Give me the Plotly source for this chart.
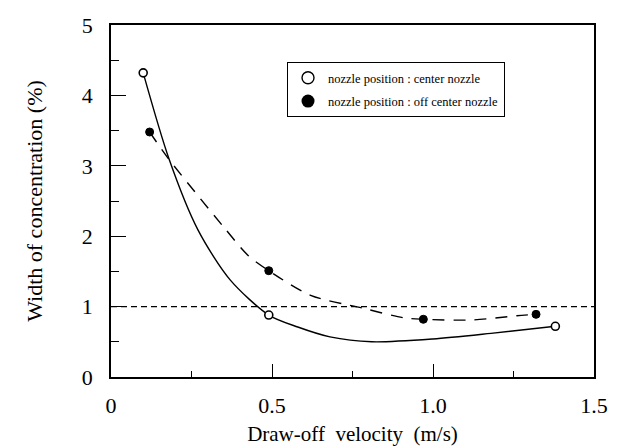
import plotly.graph_objects as go

# Measured points
center_v = [0.10, 0.49, 1.38]
center_w = [4.32, 0.88, 0.72]
offc_v = [0.12, 0.49, 0.97, 1.32]
offc_w = [3.48, 1.51, 0.82, 0.89]

# Hand-fitted trend curves
center_curve_v = [0.10, 0.18, 0.27, 0.37, 0.49, 0.58, 0.68, 0.81, 1.00, 1.18, 1.38]
center_curve_w = [4.32, 3.10, 2.09, 1.38, 0.88, 0.71, 0.57, 0.50, 0.54, 0.62, 0.72]
offc_curve_v = [0.12, 0.177, 0.35, 0.425, 0.49, 0.62, 0.78, 0.91, 0.97, 1.12, 1.26, 1.32]
offc_curve_w = [3.48, 3.11, 2.13, 1.73, 1.51, 1.16, 0.98, 0.84, 0.82, 0.81, 0.87, 0.89]

# Reference level
ref_v = [0.0, 1.5]
ref_w = [1.0, 1.0]

x_ticks = [0, 0.5, 1.0, 1.5]
x_labels = ["0", "0.5", "1.0", "1.5"]
y_ticks = [0, 1, 2, 3, 4, 5]
y_labels = ["0", "1", "2", "3", "4", "5"]

SERIF = "Liberation Serif, Times New Roman, serif"

fig = go.Figure()

fig.add_trace(go.Scatter(x=ref_v, y=ref_w, mode="lines",
                         line=dict(color="black", width=1.4, dash="6px,4px"),
                         showlegend=False, hoverinfo="skip"))
fig.add_trace(go.Scatter(x=center_curve_v, y=center_curve_w, mode="lines",
                         line=dict(color="black", width=1.4, shape="spline", smoothing=0.8),
                         showlegend=False, hoverinfo="skip"))
fig.add_trace(go.Scatter(x=offc_curve_v, y=offc_curve_w, mode="lines",
                         line=dict(color="black", width=1.4, shape="spline", smoothing=0.8,
                                   dash="12px,9px"),
                         showlegend=False, hoverinfo="skip"))

fig.add_trace(go.Scatter(x=center_v, y=center_w, mode="markers",
                         marker=dict(symbol="circle", size=8, color="white",
                                     line=dict(color="black", width=1.6)),
                         showlegend=False))
fig.add_trace(go.Scatter(x=offc_v, y=offc_w, mode="markers",
                         marker=dict(symbol="circle", size=8, color="black",
                                     line=dict(color="black", width=1)),
                         showlegend=False))

# Legend entries with larger symbols
fig.add_trace(go.Scatter(x=[None], y=[None], mode="markers",
                         name="nozzle position : center nozzle", legendgroup="a",
                         marker=dict(symbol="circle", size=12, color="white",
                                     line=dict(color="black", width=1.4))))
fig.add_trace(go.Scatter(x=[None], y=[None], mode="markers",
                         name="nozzle position : off center nozzle", legendgroup="b",
                         marker=dict(symbol="circle", size=13, color="black")))

fig.update_layout(
    width=620, height=448,
    margin=dict(l=111, r=26, t=25, b=71, autoexpand=False),
    paper_bgcolor="white", plot_bgcolor="white",
    font=dict(family=SERIF, color="black"),
    showlegend=True,
    legend=dict(x=0.364, y=0.895, xanchor="left", yanchor="top",
                bgcolor="white", bordercolor="black", borderwidth=1.2,
                font=dict(size=12.5, family=SERIF),
                itemsizing="trace", tracegroupgap=4),
)

fig.update_xaxes(
    range=[0, 1.5], tickvals=x_ticks, ticktext=x_labels, automargin=False,
    ticks="inside", ticklen=13, tickwidth=1.3, tickcolor="black",
    minor=dict(ticks="inside", ticklen=6, tickwidth=1.2, tickcolor="black", dtick=0.25, tick0=0),
    showline=True, linecolor="black", linewidth=1.6, mirror=True,
    showgrid=False, zeroline=False,
    tickfont=dict(size=22, family=SERIF), ticklabelstandoff=8,
    title=dict(text="Draw-off  velocity  (m/s)", font=dict(size=21, family=SERIF), standoff=9),
)
fig.update_yaxes(
    range=[0, 5], tickvals=y_ticks, ticktext=y_labels, automargin=False,
    ticks="inside", ticklen=15, tickwidth=1.3, tickcolor="black",
    minor=dict(ticks="inside", ticklen=8, tickwidth=1.2, tickcolor="black", dtick=0.5, tick0=0),
    showline=True, linecolor="black", linewidth=1.6, mirror=True,
    showgrid=False, zeroline=False,
    tickfont=dict(size=22, family=SERIF), ticklabelstandoff=12,
    title=dict(text="Width of concentration (%)", font=dict(size=22, family=SERIF), standoff=33),
)

fig.write_html("out.html")
